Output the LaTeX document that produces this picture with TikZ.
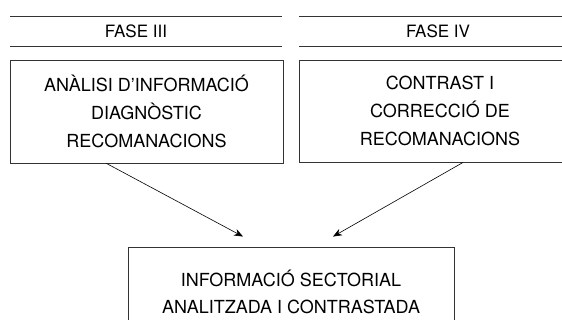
\documentclass[tikz,border=0pt]{standalone}
\usepackage{fontspec}
\setmainfont{TeX Gyre Heros}
\usetikzlibrary{arrows.meta}

\tikzset{
    rule/.style={black!80, line width=0.9pt},
    fasetitle/.style={font=\fontsize{17}{20}\selectfont, inner sep=0pt},
    fasebox/.style={draw=black!80, line width=0.9pt, align=center,
        font=\fontsize{18}{28}\selectfont, inner sep=0pt},
    flow/.style={-{Stealth[length=9pt, width=7pt]}, line width=0.6pt}
}

\begin{document}
\begin{tikzpicture}[x=1pt, y=-1pt]
        \useasboundingbox (0,0) rectangle (562,320);
        \clip (0,0) rectangle (562,320);

        % --- capçaleres de fase ---
        \draw[rule] (10,16) -- (282,16);
        \draw[rule] (10,46) -- (282,46);
        \node[fasetitle] (fase3) at (136,31) {FASE III};

        \draw[rule] (299,16) -- (570,16);
        \draw[rule] (299,46) -- (570,46);
        \node[fasetitle] (fase4) at (438,31) {FASE IV};

        % --- caixes ---
        \node[fasebox, minimum width=273pt, minimum height=103pt] (analisi) at (146.5,111.5)
            {ANÀLISI D’INFORMACIÓ\\DIAGNÒSTIC\\RECOMANACIONS};
        \node[fasebox, minimum width=282pt, minimum height=102pt] (contrast) at (440,111)
            {CONTRAST I\\CORRECCIÓ DE\\RECOMANACIONS};
        \node[fasebox, font=\fontsize{18}{27}\selectfont,
              minimum width=326pt, minimum height=90pt] (resultat) at (291,292)
            {INFORMACIÓ SECTORIAL\\ANALITZADA I CONTRASTADA};

        % --- fletxes ---
        \coordinate (entradaA) at ([xshift=-48pt, yshift=10pt]resultat.north);
        \coordinate (entradaB) at ([xshift=42pt, yshift=10pt]resultat.north);
        \draw[flow] ([xshift=-40pt]analisi.south) -- (entradaA);
        \draw[flow] ([xshift=23pt]contrast.south) -- (entradaB);

    \end{tikzpicture}
\end{document}
